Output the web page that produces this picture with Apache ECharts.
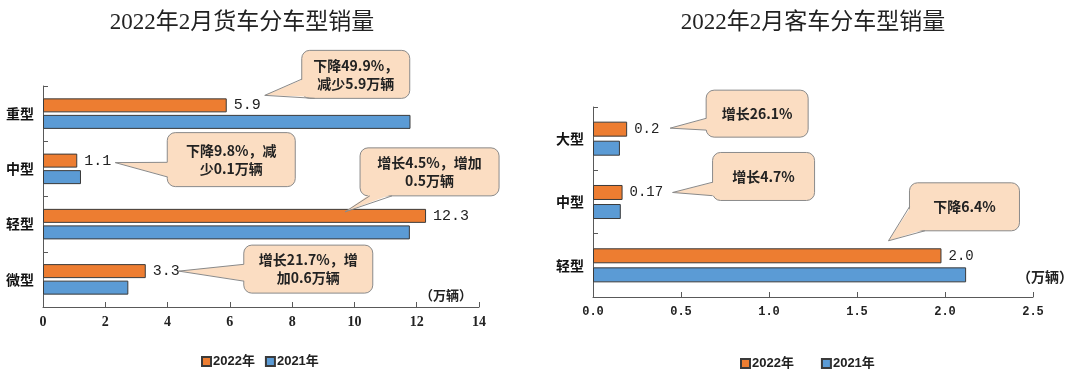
<!DOCTYPE html>
<html><head><meta charset="utf-8">
<script src="https://cdn.jsdelivr.net/npm/echarts@6/dist/echarts.min.js"></script>
<style>
html,body{margin:0;padding:0;background:#fff;}
#wrap{width:1080px;height:379px;position:relative;overflow:hidden;}
.c{position:absolute;top:0;width:540px;height:379px;}
</style>
</head><body>
<div id="wrap"><div id="left" class="c" style="left:0"></div><div id="right" class="c" style="left:540px"></div></div>
<script>
// ---------- data ----------
const seriesNames = ['2022年', '2021年'];
const unitLabel = '（万辆）';

const truckTitle = '2022年2月货车分车型销量';
const truckCategories = ['重型', '中型', '轻型', '微型'];
const truck2022 = [5.9, 1.1, 12.3, 3.3];
const truck2021 = [11.8, 1.22, 11.78, 2.74];
const truckAxis = { min: 0, max: 14, interval: 2 };
const truckNotes = ['下降49.9%，\n减少5.9万辆', '下降9.8%，减\n少0.1万辆', '增长4.5%，增加\n0.5万辆', '增长21.7%，增\n加0.6万辆'];

const busTitle = '2022年2月客车分车型销量';
const busCategories = ['大型', '中型', '轻型'];
const bus2022 = [0.194, 0.168, 1.98];
const bus2022Labels = ['0.2', '0.17', '2.0'];
const bus2021 = [0.153, 0.158, 2.12];
const busAxis = { min: 0, max: 2.5, interval: 0.5 };
const busNotes = ['增长26.1%', '增长4.7%', '下降6.4%'];

// ---------- styling / layout ----------
const ORANGE = '#ED7D31', BLUE = '#5B9BD5', EDGE = '#3a3a3a', AXIS = '#595959';
const CJK = "'Noto Sans CJK SC', sans-serif";
const MONO = "'Liberation Mono', monospace";

// callout layout: tip offset from bar end [dx,dy], box offset from tip [bx,by], size [w,h], tail base (fractions of box)
const truckCallouts = [
  { tip: [38, -10], box: [37, -45], size: [108, 48], base: [[0, 0.6], [0.12, 1]] },
  { tip: [38, 2], box: [52, -30], size: [128, 54], base: [[0, 0.55], [0, 0.82]] },
  { tip: [-81, -4], box: [15, -64], size: [139, 48], base: [[0.07, 1], [0.23, 1]] },
  { tip: [33, 0], box: [65, -26], size: [129, 48], base: [[0, 0.4], [0, 0.75]] }
];
const busCallouts = [
  { tip: [43, -1], box: [36, -38], size: [102, 47], base: [[0, 0.6], [0, 0.85]] },
  { tip: [50, 0], box: [40, -40], size: [102, 48], base: [[0, 0.62], [0, 0.9]] },
  { tip: [-53, -15], box: [21, -58], size: [110, 48], base: [[0, 0.5], [0.14, 1]] }
];

function baseOption(cfg) {
  return {
    animation: false,
    backgroundColor: '#fff',
    title: {
      text: cfg.title, left: cfg.titleX, top: 6, textAlign: 'center',
      textStyle: { fontSize: 23, fontWeight: 'normal', color: '#222', fontFamily: "'Liberation Serif', 'Noto Sans CJK SC', serif" }
    },
    legend: {
      data: seriesNames, left: cfg.legendLeft, top: cfg.legendTop, icon: 'rect',
      itemWidth: 9, itemHeight: 9, itemGap: cfg.legendGap,
      textStyle: { fontSize: 13, fontWeight: 'bold', color: '#222', fontFamily: "'Liberation Sans', 'Noto Sans CJK SC', sans-serif", padding: [0, 0, 0, -3] }
    },
    grid: Object.assign({ containLabel: false, outerBoundsMode: 'none' }, cfg.grid),
    xAxis: {
      type: 'value', min: cfg.axis.min, max: cfg.axis.max, interval: cfg.axis.interval,
      axisLine: { show: true, lineStyle: { color: AXIS, width: 1 } },
      axisTick: { show: true, inside: true, length: 5, lineStyle: { color: AXIS } },
      splitLine: { show: false },
      axisLabel: Object.assign({ margin: 8, color: '#222', fontWeight: 'bold' }, cfg.xLabel)
    },
    yAxis: {
      type: 'category', data: cfg.categories, inverse: true,
      axisLine: { show: true, lineStyle: { color: AXIS, width: 1 } },
      axisTick: { show: true, inside: true, length: 5, lineStyle: { color: AXIS } },
      axisLabel: { margin: 9, fontSize: 14, fontWeight: 'bold', color: '#111', fontFamily: CJK }
    },
    series: [
      {
        name: seriesNames[0], type: 'bar', data: cfg.s1, barWidth: cfg.barWidth, barGap: cfg.barGap,
        itemStyle: { color: ORANGE, borderColor: EDGE, borderWidth: 1 },
        label: { show: true, position: 'right', distance: 7, formatter: cfg.labelFmt, fontFamily: MONO, fontSize: cfg.labelSize, color: '#222' }
      },
      {
        name: seriesNames[1], type: 'bar', data: cfg.s2, barWidth: cfg.barWidth, barGap: cfg.barGap,
        itemStyle: { color: BLUE, borderColor: EDGE, borderWidth: 1 }
      }
    ]
  };
}

function calloutGraphics(chart, notes, layouts, values, cfg) {
  const els = [];
  let data = null;
  try { data = chart.getModel().getSeriesByIndex(0).getData(); } catch (e) { data = null; }
  notes.forEach((txt, i) => {
    let endX, cy;
    const lay = data ? data.getItemLayout(i) : null;
    if (lay && isFinite(lay.x)) {
      endX = lay.x + lay.width;
      cy = lay.y + lay.height / 2;
    } else {
      const p = chart.convertToPixel({ xAxisIndex: 0, yAxisIndex: 0 }, [values[i], i]);
      endX = p[0]; cy = p[1] - (cfg.barWidth * (1 + cfg.gapFrac)) / 2;
    }
    const L = layouts[i];
    const tx = endX + L.tip[0], ty = cy + L.tip[1];
    const bx = tx + L.box[0], by = ty + L.box[1], w = L.size[0], h = L.size[1];
    const pts = L.base.map(f => [bx + f[0] * w, by + f[1] * h]);
    const inner = L.base.map((f, k) => {
      let x = pts[k][0], y = pts[k][1];
      if (f[0] === 0) x += 1.5; if (f[0] === 1) x -= 1.5;
      if (f[1] === 0) y += 1.5; if (f[1] === 1) y -= 1.5;
      return [x, y];
    });
    els.push({ type: 'rect', z: 100, shape: { x: bx, y: by, width: w, height: h, r: 8 }, style: { fill: '#FBDDC2', stroke: '#8a8a8a', lineWidth: 1 } });
    els.push({ type: 'polygon', z: 101, shape: { points: [inner[0], [tx, ty], inner[1]] }, style: { fill: '#FBDDC2', stroke: null } });
    els.push({ type: 'polyline', z: 102, shape: { points: [pts[0], [tx, ty], pts[1]] }, style: { fill: null, stroke: '#8a8a8a', lineWidth: 1 } });
    els.push({ type: 'text', z: 103, x: bx + w / 2, y: by + h / 2, style: { text: txt, textAlign: 'center', textVerticalAlign: 'middle', fill: '#222', font: "bold 14px 'Noto Sans CJK SC', sans-serif", lineHeight: 18 } });
  });
  return els;
}

// ---------- left chart ----------
const leftCfg = {
  title: truckTitle, titleX: 237, legendLeft: 196, legendTop: 350, legendGap: 10,
  grid: { left: 43, right: 61, top: 86, bottom: 72 },
  axis: truckAxis, categories: truckCategories, s1: truck2022, s2: truck2021,
  barWidth: 14, barGap: '18%', gapFrac: 0.18, labelSize: 15,
  labelFmt: p => p.value.toFixed(1),
  xLabel: { fontSize: 14, fontFamily: "'Liberation Serif', serif" }
};
const leftChart = echarts.init(document.getElementById('left'), null, { renderer: 'canvas' });
leftChart.setOption(baseOption(leftCfg));
leftChart.setOption({
  graphic: [{ type: 'text', x: 472, y: 295, style: { text: unitLabel, textAlign: 'right', textVerticalAlign: 'middle', fill: '#222', font: "bold 13px 'Noto Sans CJK SC', sans-serif" } }]
    .concat(calloutGraphics(leftChart, truckNotes, truckCallouts, truck2022, leftCfg))
});

// ---------- right chart ----------
const rightCfg = {
  title: busTitle, titleX: 268, legendLeft: 195, legendTop: 352, legendGap: 27,
  grid: { left: 53, right: 47, top: 107, bottom: 82 },
  axis: busAxis, categories: busCategories, s1: bus2022, s2: bus2021,
  barWidth: 15, barGap: '27%', gapFrac: 0.27, labelSize: 14,
  labelFmt: p => bus2022Labels[p.dataIndex],
  xLabel: { fontSize: 12, fontFamily: MONO, margin: 9, formatter: v => v.toFixed(1) }
};
const rightChart = echarts.init(document.getElementById('right'), null, { renderer: 'canvas' });
rightChart.setOption(baseOption(rightCfg));
rightChart.setOption({
  graphic: [{ type: 'text', x: 477, y: 277, style: { text: unitLabel, textAlign: 'left', textVerticalAlign: 'middle', fill: '#222', font: "bold 14px 'Noto Sans CJK SC', sans-serif" } }]
    .concat(calloutGraphics(rightChart, busNotes, busCallouts, bus2022, rightCfg))
});
</script>
</body></html>
